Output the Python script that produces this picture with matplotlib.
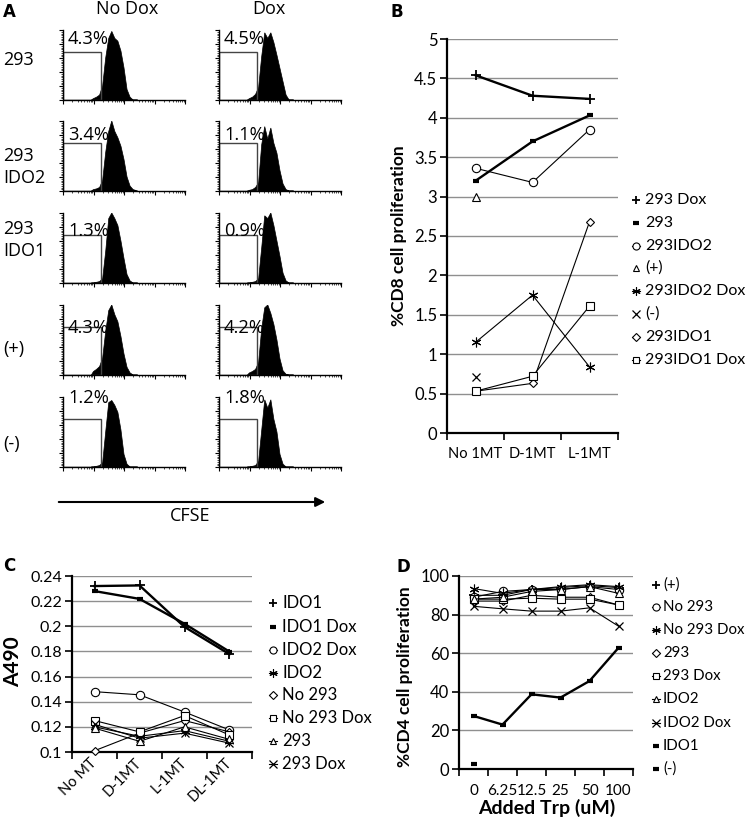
import numpy as np
import matplotlib
matplotlib.use("Agg")
import matplotlib.pyplot as plt
from matplotlib.lines import Line2D
from matplotlib.patches import Rectangle, FancyArrowPatch

# ---------------- data ----------------
# Panel A: CFSE histograms (heights read at log-decade positions)
hist_x = [1.0, 1.1, 1.2, 1.3, 1.4, 1.5, 1.6, 1.7, 1.8, 1.9, 2.0, 2.1, 2.2, 2.3]
row_labels = ["293", "293\nIDO2", "293\nIDO1", "(+)", "(-)"]
col_labels = ["No Dox", "Dox"]
pct_nodox = ["4.3%", "3.4%", "1.3%", "4.3%", "1.2%"]
pct_dox = ["4.5%", "1.1%", "0.9%", "4.2%", "1.8%"]
hist_nodox = [
    [0.02, 0.04, 0.07, 0.20, 0.60, 0.88, 0.98, 0.88, 0.84, 0.70, 0.46, 0.15, 0.04, 0.0],
    [0.02, 0.03, 0.05, 0.15, 0.55, 0.85, 1.00, 0.85, 0.76, 0.64, 0.45, 0.20, 0.07, 0.02],
    [0.00, 0.01, 0.02, 0.06, 0.45, 0.92, 1.00, 0.92, 0.82, 0.60, 0.35, 0.12, 0.03, 0.0],
    [0.05, 0.08, 0.12, 0.24, 0.62, 0.92, 1.00, 0.86, 0.76, 0.55, 0.30, 0.11, 0.03, 0.0],
    [0.00, 0.01, 0.02, 0.06, 0.50, 0.92, 0.95, 0.88, 0.78, 0.53, 0.18, 0.04, 0.00, 0.0],
]
hist_dox = [
    [0.02, 0.04, 0.08, 0.18, 0.62, 0.96, 0.88, 0.96, 0.82, 0.64, 0.45, 0.26, 0.07, 0.0],
    [0.01, 0.02, 0.05, 0.12, 0.66, 0.92, 0.74, 0.90, 0.68, 0.54, 0.29, 0.10, 0.02, 0.0],
    [0.00, 0.01, 0.02, 0.06, 0.50, 0.96, 0.92, 1.00, 0.82, 0.60, 0.38, 0.14, 0.03, 0.0],
    [0.03, 0.05, 0.08, 0.18, 0.66, 0.96, 1.00, 0.88, 0.72, 0.50, 0.23, 0.06, 0.01, 0.0],
    [0.00, 0.01, 0.02, 0.08, 0.52, 0.96, 0.84, 0.96, 0.68, 0.50, 0.18, 0.04, 0.00, 0.0],
]
gate_x = 1.25
gate_h = 0.68

# Panel B: %CD8 cell proliferation
b_categories = ["No 1MT", "D-1MT", "L-1MT"]
b_names = ["293 Dox", "293", "293IDO2", "(+)", "293IDO2 Dox", "(-)", "293IDO1", "293IDO1 Dox"]
b_293_dox = [4.54, 4.28, 4.24]
b_293 = [3.20, 3.70, 4.03]
b_293ido2 = [3.36, 3.18, 3.85]
b_pos = [3.00, np.nan, np.nan]
b_293ido2_dox = [1.15, 1.75, 0.84]
b_neg = [0.71, np.nan, np.nan]
b_293ido1 = [0.53, 0.63, 2.68]
b_293ido1_dox = [0.53, 0.72, 1.61]
b_values = [b_293_dox, b_293, b_293ido2, b_pos, b_293ido2_dox, b_neg, b_293ido1, b_293ido1_dox]

# Panel C: A490
c_categories = ["No MT", "D-1MT", "L-1MT", "DL-1MT"]
c_names = ["IDO1", "IDO1 Dox", "IDO2 Dox", "IDO2", "No 293", "No 293 Dox", "293", "293 Dox"]
c_ido1 = [0.232, 0.2325, 0.1995, 0.1778]
c_ido1_dox = [0.228, 0.2218, 0.2020, 0.1798]
c_ido2_dox = [0.148, 0.1455, 0.1318, 0.1175]
c_ido2 = [0.120, 0.1125, 0.1170, 0.1085]
c_no293 = [0.101, 0.1150, 0.1250, 0.1160]
c_no293_dox = [0.125, 0.1160, 0.1290, 0.1135]
c_293 = [0.119, 0.1085, 0.1200, 0.1100]
c_293_dox = [0.122, 0.1110, 0.1150, 0.1070]
c_values = [c_ido1, c_ido1_dox, c_ido2_dox, c_ido2, c_no293, c_no293_dox, c_293, c_293_dox]

# Panel D: %CD4 cell proliferation vs added Trp
d_categories = ["0", "6.25", "12.5", "25", "50", "100"]
d_names = ["(+)", "No 293", "No 293 Dox", "293", "293 Dox", "IDO2", "IDO2 Dox", "IDO1", "(-)"]
d_pos = [90.0, 90.0, 93.0, 94.0, 95.0, 94.0]
d_no293 = [89.0, 92.0, 93.0, 93.0, 94.5, 93.0]
d_no293_dox = [93.5, 91.0, 93.0, 94.5, 95.5, 94.5]
d_293 = [87.0, 87.0, 90.0, 89.0, 89.0, 85.0]
d_293_dox = [88.0, 88.0, 88.5, 88.0, 88.0, 85.0]
d_ido2 = [88.0, 89.0, 92.0, 93.0, 94.5, 91.0]
d_ido2_dox = [84.3, 83.0, 81.8, 81.8, 83.5, 74.0]
d_ido1 = [27.5, 23.0, 38.7, 37.0, 45.6, 62.8]
d_neg = [2.8, np.nan, np.nan, np.nan, np.nan, np.nan]
d_values = [d_pos, d_no293, d_no293_dox, d_293, d_293_dox, d_ido2, d_ido2_dox, d_ido1, d_neg]

# ---------------- styles ----------------
STY = {
    "plus":  dict(marker="+", ms=7, mew=1.3, mfc="black"),
    "dash":  dict(marker="_", ms=5, mew=3.0, mfc="black"),
    "circ":  dict(marker="o", ms=6, mew=0.8, mfc="white"),
    "tri":   dict(marker="^", ms=5.5, mew=0.8, mfc="white"),
    "ast":   dict(marker=(6, 2, 0), ms=7, mew=0.8, mfc="black"),
    "x":     dict(marker="x", ms=6, mew=0.9, mfc="black"),
    "diam":  dict(marker="D", ms=4.5, mew=0.8, mfc="white"),
    "sq":    dict(marker="s", ms=5.5, mew=0.8, mfc="white"),
}
b_sty = [("plus", 1.7), ("dash", 1.7), ("circ", 0.8), ("tri", 0), ("ast", 0.8), ("x", 0), ("diam", 0.8), ("sq", 0.8)]
c_sty = [("plus", 1.7), ("dash", 1.7), ("circ", 0.8), ("ast", 0.8), ("diam", 0.8), ("sq", 0.8), ("tri", 0.8), ("x", 0.8)]
d_sty = [("plus", 0.8), ("circ", 0.8), ("ast", 0.8), ("diam", 0.8), ("sq", 0.8), ("tri", 0.8), ("x", 0.8), ("dash", 1.7), ("dash", 0)]

W, H = 747, 824
fig = plt.figure(figsize=(W / 100, H / 100), dpi=100)
FA = "Open Sans"
FB = "Lato"


def rect(l, t, r, b):
    return [l / W, 1 - b / H, (r - l) / W, (b - t) / H]


def ftxt(x, y, s, **kw):
    fig.text(x / W, 1 - y / H, s, **kw)


# ---------------- Panel A ----------------
ftxt(3, 12, "A", fontsize=12, fontweight="bold", family="DejaVu Sans", va="center")
ftxt(127, 9, col_labels[0], fontsize=13, family=FA, ha="center", va="center")
ftxt(269, 9, col_labels[1], fontsize=13, family=FA, ha="center", va="center")
row_tops = [30, 121, 213, 305, 397]
row_label_y = [60, 167, 240, 349, 444]
text_off = [14, 19, 23, 28, 6]
col_lefts = [63, 219]
mtk = np.concatenate([np.log10(np.arange(2, 10)) + k for k in range(4)])
for r in range(5):
    ftxt(3, row_label_y[r], row_labels[r], fontsize=13, family=FA, va="center", linespacing=1.3)
    for c in range(2):
        heights = hist_nodox[r] if c == 0 else hist_dox[r]
        pct = pct_nodox[r] if c == 0 else pct_dox[r]
        l = col_lefts[c]
        t = row_tops[r]
        ax = fig.add_axes(rect(l, t, l + 122, t + 70))
        xs = [0.93] + hist_x + [2.45]
        ys = [0.0] + heights + [0.0]
        ax.fill(xs, ys, color="black", lw=0.5)
        ax.plot([0, 0.93], [0.006, 0.006], color="black", lw=0.8)
        ax.add_patch(Rectangle((0, 0), gate_x, gate_h, fill=False, lw=1.0, ec="#444444"))
        ax.set_xlim(0, 4)
        ax.set_ylim(0, 1.0)
        for s in ["top", "right"]:
            ax.spines[s].set_visible(False)
        ax.spines["left"].set_linewidth(1.0)
        ax.spines["bottom"].set_linewidth(1.0)
        ax.set_xticks([0, 1, 2, 3, 4])
        ax.set_xticks(mtk, minor=True)
        ax.set_yticks(np.arange(0, 1.01, 0.2))
        ax.set_yticks(np.arange(0, 1.0, 0.025), minor=True)
        ax.tick_params(which="major", length=3, width=0.8, labelleft=False, labelbottom=False)
        ax.tick_params(which="minor", length=1.5, width=0.5)
        ax.text(0.04, 1 - text_off[r] / 70, pct, transform=ax.transAxes, fontsize=13.2,
                family=FA, va="baseline", ha="left")

arrow = FancyArrowPatch((56 / W, 1 - 502 / H), (328 / W, 1 - 502 / H), transform=fig.transFigure,
                        arrowstyle="-|>", mutation_scale=14, lw=1.5, color="black")
fig.add_artist(arrow)
ftxt(190, 516, "CFSE", fontsize=13, family=FA, ha="center", va="center")


# ---------------- helpers for line panels ----------------
def cat_axes(ax, cats, fs, pad, rot=0):
    n = len(cats)
    ax.set_xlim(0, n)
    ax.set_xticks(np.arange(n + 1))
    ax.set_xticklabels([])
    ax.set_xticks(np.arange(n) + 0.5, minor=True)
    if rot:
        ax.set_xticklabels(cats, minor=True, fontsize=fs, family=FB, rotation=rot,
                           ha="right", va="center", rotation_mode="anchor")
    else:
        ax.set_xticklabels(cats, minor=True, fontsize=fs, family=FB)
    ax.tick_params(axis="x", which="major", length=5, width=1.2, direction="out")
    ax.tick_params(axis="x", which="minor", length=0, pad=pad)
    ax.tick_params(axis="y", which="major", length=5, width=1.2, direction="out", pad=2)
    for s in ["top", "right"]:
        ax.spines[s].set_visible(False)
    ax.spines["left"].set_linewidth(1.6)
    ax.spines["bottom"].set_linewidth(1.6)
    ax.yaxis.grid(True, color="#8f8f8f", lw=1.0)
    ax.set_axisbelow(True)


def plot_series(ax, values, styles):
    n = len(values[0])
    xs = np.arange(n) + 0.5
    for vals, (mk, lw) in zip(values, styles):
        st = STY[mk]
        ax.plot(xs, vals, color="black", lw=lw if lw > 0 else 0, marker=st["marker"], ms=st["ms"],
                mew=st["mew"], mfc=st["mfc"], mec="black", zorder=3, clip_on=False)


def manual_legend(names, styles, xm, xt, ys, fs):
    for name, (mk, lw), y in zip(names, styles, ys):
        st = STY[mk]
        yf = 1 - y / H
        if lw > 0 and mk not in ("plus", "dash"):
            fig.add_artist(Line2D([(xm - 4) / W, (xm + 4) / W], [yf, yf], transform=fig.transFigure,
                                  color="black", lw=0.8))
        fig.add_artist(Line2D([xm / W], [yf], transform=fig.transFigure, color="black", lw=0,
                              marker=st["marker"], ms=st["ms"] * 0.85, mew=st["mew"],
                              mfc=st["mfc"], mec="black"))
        ftxt(xt, y, name, fontsize=fs, family=FB, va="center", ha="left")


fmt = lambda v: f"{v:g}"

# ---------------- Panel B ----------------
ftxt(391, 12, "B", fontsize=12, fontweight="bold", family="DejaVu Sans", va="center")
axB = fig.add_axes(rect(447, 39, 618, 433))
cat_axes(axB, b_categories, 10.5, 10)
axB.set_ylim(0, 5)
yt = np.arange(0, 5.01, 0.5)
axB.set_yticks(yt)
axB.set_yticklabels([fmt(v) for v in yt], fontsize=12, family=FB)
plot_series(axB, b_values, b_sty)
ftxt(399, 236, "%CD8 cell proliferation", fontsize=12.5, fontweight="bold", family=FB,
     rotation=90, ha="center", va="center")
manual_legend(b_names, b_sty, 636, 645, [200, 223, 246, 268, 291, 314, 337, 360], 11.5)

# ---------------- Panel C ----------------
ftxt(3, 566, "C", fontsize=12, fontweight="bold", family="DejaVu Sans", va="center")
axC = fig.add_axes(rect(72, 576, 252, 752))
cat_axes(axC, c_categories, 10.5, 6, rot=45)
axC.set_ylim(0.1, 0.24)
yt = np.round(np.arange(0.1, 0.2401, 0.02), 2)
axC.set_yticks(yt)
axC.set_yticklabels([fmt(v) for v in yt], fontsize=11.5, family=FB)
plot_series(axC, c_values, c_sty)
ftxt(13, 662, "A490", fontsize=15, fontweight="bold", family=FB, rotation=90, ha="center", va="center")
manual_legend(c_names, c_sty, 273, 282, [603, 627, 650, 673, 695, 718, 741, 764], 12)

# ---------------- Panel D ----------------
ftxt(397, 567, "D", fontsize=12, fontweight="bold", family="DejaVu Sans", va="center")
axD = fig.add_axes(rect(459, 576, 633, 769))
cat_axes(axD, d_categories, 11, 11)
axD.set_ylim(0, 100)
yt = np.arange(0, 101, 20)
axD.set_yticks(yt)
axD.set_yticklabels([fmt(v) for v in yt], fontsize=12, family=FB)
plot_series(axD, d_values, d_sty)
ftxt(405, 677, "%CD4 cell proliferation", fontsize=12.5, fontweight="bold", family=FB,
     rotation=90, ha="center", va="center")
ftxt(547, 808, "Added Trp (uM)", fontsize=14, fontweight="bold", family=FB, ha="center", va="center")
manual_legend(d_names, d_sty, 656, 663, [585, 607, 630, 653, 676, 699, 723, 746, 769], 10.8)

fig.savefig("out.png", dpi=100)
